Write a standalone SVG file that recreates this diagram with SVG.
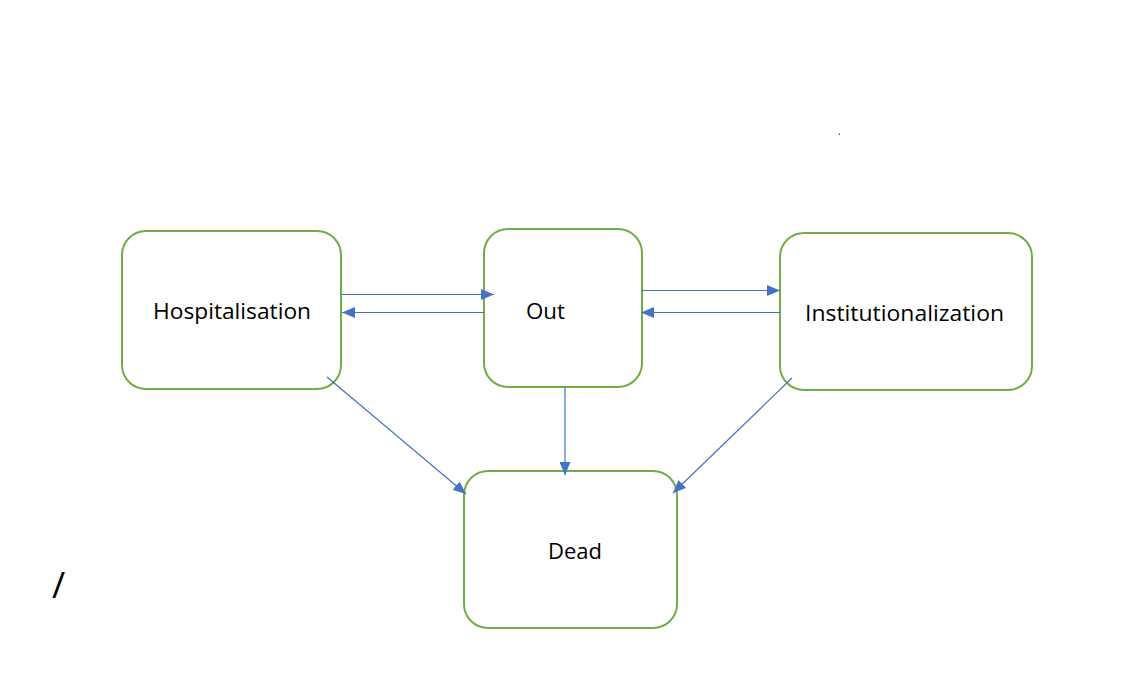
<svg xmlns="http://www.w3.org/2000/svg" width="1146" height="690" viewBox="0 0 1146 690">
<defs>
<marker id="ah" markerWidth="13" markerHeight="11" refX="13" refY="5.5" orient="auto" markerUnits="userSpaceOnUse">
<path d="M0,0 L13,5.5 L0,11 Z" fill="#4472C4"/>
</marker>
<style>
.box{fill:#fff;stroke:#70AD47;stroke-width:2}
.lbl{font-family:"Open Sans","Noto Sans",sans-serif;font-size:22px;fill:#000}
.c{stroke:#4472C4;stroke-width:1.2;fill:none;marker-end:url(#ah)}
</style>
</defs>
<rect width="1146" height="690" fill="#fff"/>
<g id="hospitalisation"><rect class="box" x="122" y="231" width="219" height="158" rx="24"/><text class="lbl" x="153" y="319" textLength="158" lengthAdjust="spacingAndGlyphs">Hospitalisation</text></g>
<g id="out"><rect class="box" x="484" y="229" width="158" height="158" rx="24"/><text class="lbl" x="526" y="319" textLength="39" lengthAdjust="spacingAndGlyphs">Out</text></g>
<g id="institutionalization"><rect class="box" x="780" y="233" width="252" height="157" rx="24"/><text class="lbl" x="805" y="321" textLength="199" lengthAdjust="spacingAndGlyphs">Institutionalization</text></g>
<g id="dead"><rect class="box" x="464" y="471" width="213" height="157" rx="24"/><text class="lbl" x="548" y="559" textLength="54" lengthAdjust="spacingAndGlyphs">Dead</text></g>
<g id="connectors">
<line class="c" x1="342" y1="294.5" x2="494" y2="294.5"/>
<line class="c" x1="484" y1="312.5" x2="342" y2="312.5"/>
<line class="c" x1="642" y1="290.5" x2="780" y2="290.5"/>
<line class="c" x1="780" y1="312.5" x2="641" y2="312.5"/>
<line class="c" x1="327" y1="377" x2="466" y2="494"/>
<line class="c" x1="565" y1="387" x2="565" y2="475"/>
<line class="c" x1="792" y1="378" x2="673" y2="493"/>
</g>
<text x="52" y="598" style="font-family:'Open Sans','Noto Sans',sans-serif;font-size:36px;fill:#000">/</text>
<rect x="838.5" y="133.5" width="1.5" height="1.5" fill="#E03030"/>
</svg>
